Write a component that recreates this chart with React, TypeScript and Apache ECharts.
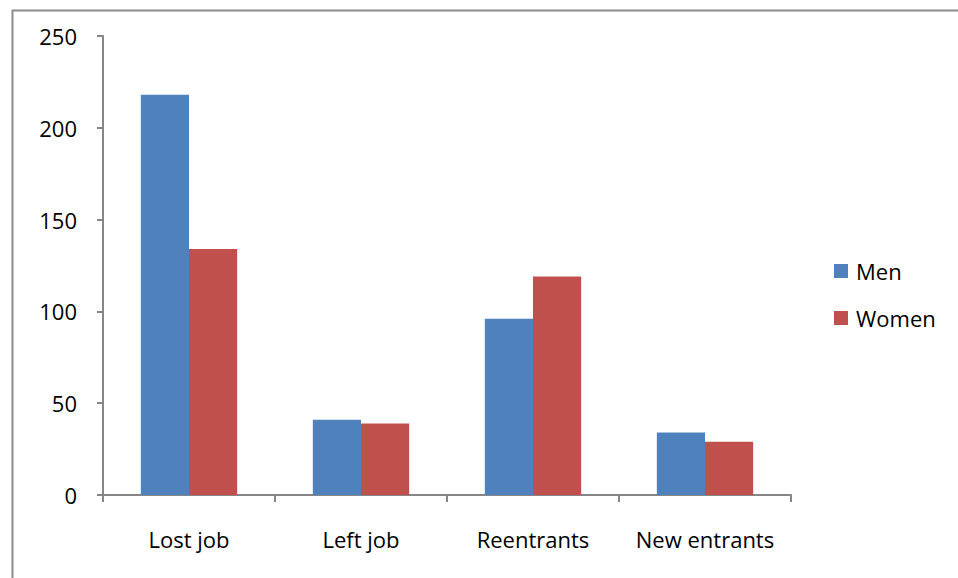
import React, { useEffect, useRef } from "react";
import * as echarts from "echarts";

const categories = ["Lost job", "Left job", "Reentrants", "New entrants"];
const menValues = [218, 41, 96, 34];
const womenValues = [134, 39, 119, 29];
const seriesNames = ["Men", "Women"];

const FONT = "'Open Sans', 'Noto Sans', sans-serif";

export default function App() {
  const ref = useRef<HTMLDivElement>(null);
  useEffect(() => {
    if (!ref.current) return;
    const chart = echarts.init(ref.current, undefined, { renderer: "svg" });
    chart.setOption({
      animation: false,
      backgroundColor: "#ffffff",
      textStyle: { fontFamily: FONT, color: "#000000" },
      graphic: [
        {
          type: "rect",
          left: 10,
          top: 8,
          shape: { x: 0, y: 0, width: 960, height: 590 },
          style: { fill: "none", stroke: "#8c8c8c", lineWidth: 2 },
          silent: true,
          z: -1,
        },
      ],
      legend: {
        orient: "vertical",
        left: 829,
        top: 255,
        itemWidth: 14,
        itemHeight: 14,
        itemGap: 25,
        icon: "rect",
        data: seriesNames,
        textStyle: {
          fontFamily: FONT,
          fontSize: 22,
          lineHeight: 22,
          color: "#000000",
          padding: [0, 0, 0, 3],
        },
      },
      grid: { left: 103, right: 167, top: 36, bottom: 83, containLabel: false },
      xAxis: {
        type: "category",
        data: categories,
        axisLine: { lineStyle: { color: "#868686", width: 2 } },
        axisTick: {
          show: true,
          interval: 0,
          length: 7,
          lineStyle: { color: "#868686", width: 2 },
        },
        axisLabel: {
          interval: 0,
          hideOverlap: false,
          fontFamily: FONT,
          fontSize: 22,
          color: "#000000",
          margin: 33,
        },
        splitLine: { show: false },
      },
      yAxis: {
        type: "value",
        min: 0,
        max: 250,
        interval: 50,
        axisLine: { show: true, lineStyle: { color: "#868686", width: 2 } },
        axisTick: { show: true, length: 6, lineStyle: { color: "#868686", width: 2 } },
        axisLabel: {
          fontFamily: FONT,
          fontSize: 22,
          color: "#000000",
          margin: 26,
          padding: [3, 0, 0, 0],
        },
        splitLine: { show: false },
      },
      series: [
        {
          name: seriesNames[0],
          type: "bar",
          data: menValues,
          barGap: "0%",
          barCategoryGap: "44%",
          itemStyle: { color: "#4F81BD" },
        },
        {
          name: seriesNames[1],
          type: "bar",
          data: womenValues,
          barGap: "0%",
          barCategoryGap: "44%",
          itemStyle: { color: "#C0504D" },
        },
      ],
    });
    return () => chart.dispose();
  }, []);
  return (
    <div
      ref={ref}
      style={{ position: "fixed", left: 0, top: 0, width: 958, height: 578 }}
    />
  );
}
